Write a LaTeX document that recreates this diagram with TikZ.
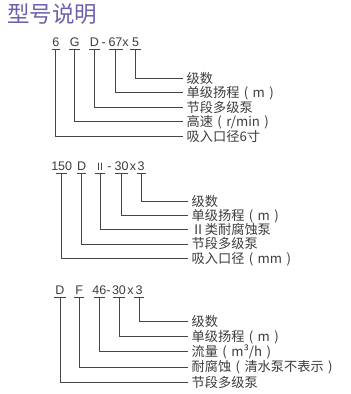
\documentclass[tikz,border=0pt]{standalone}
\usepackage{fontspec}
\setmainfont{Liberation Sans}
\newfontfamily\cjk{Noto Sans CJK SC}
\definecolor{titlec}{RGB}{108,98,172}
\definecolor{txt}{RGB}{60,60,60}
\definecolor{ln}{RGB}{70,70,70}
\newcommand\tokbar[2]{\draw[bar] ([xshift=-#2pt]#1.south) -- ([xshift=#2pt]#1.south);}
\newcommand\lp{\makebox[1em]{(}}
\newcommand\rp{\makebox[1em]{)}}
\begin{document}
\begin{tikzpicture}[x=1pt,y=-1pt,
  tok/.style={anchor=base, inner xsep=0pt, inner ysep=2.7pt, text height=9pt, text depth=0pt,
    font=\fontsize{12.5}{14}\selectfont, text=txt},
  lab/.style={anchor=west, inner xsep=3.5pt, inner ysep=0pt, text height=10pt, text depth=0pt,
    font=\cjk\fontsize{13.2}{15}\selectfont, text=txt},
  bar/.style={draw=ln, line width=0.8pt},
  conn/.style={draw=ln, line width=0.8pt}]
\useasboundingbox (0,0) rectangle (351,394);

% title
\node[anchor=base west, inner sep=0pt, font=\cjk\fontsize{22.5}{25}\selectfont, text=titlec] (title) at (7,22.5) {型号说明};

% ---------- section 1 ----------
\node[tok] (a1) at (55.8,46) {6};
\node[tok] (a2) at (74.8,46) {G};
\node[tok] (a3) at (94.5,46) {D};
\node[tok] (a3s) at (103.8,46) {-};
\node[tok] (a4) at (115.5,46) {67};
\node[tok] (a4s) at (125.5,46) {x};
\node[tok] (a5) at (135.5,46) {5};

\node[lab] (la5) at (183,78) {级数};
\node[lab] (la4) at (183,92.5) {单级扬程\lp m\rp};
\node[lab] (la3) at (183,107) {节段多级泵};
\node[lab] (la2) at (183,121.5) {高速\lp r/min\rp};
\node[lab] (la1) at (183,136) {吸入口径6寸};

\tokbar{a1}{4}\tokbar{a2}{5.5}\tokbar{a3}{5.5}\tokbar{a4}{7}\tokbar{a5}{5.5}
\draw[conn] (a5.south) |- (la5.west);
\draw[conn] (a4.south) |- (la4.west);
\draw[conn] (a3.south) |- (la3.west);
\draw[conn] (a2.south) |- (la2.west);
\draw[conn] (a1.south) |- (la1.west);

% ---------- section 2 ----------
\node[tok] (b1) at (61.7,170.7) {150};
\node[tok] (b2) at (81.7,170.7) {D};
\node[tok, font=\cjk\fontsize{10}{12}\selectfont] (b3) at (100,170.7) {Ⅱ};
\node[tok] (b3s) at (109.5,170.7) {-};
\node[tok] (b4) at (121.7,170.7) {30};
\node[tok] (b4s) at (133,170.7) {x};
\node[tok] (b5) at (141,170.7) {3};

\node[lab] (lb5) at (188,201) {级数};
\node[lab] (lb4) at (188,215.3) {单级扬程\lp m\rp};
\node[lab] (lb3) at (188,229.6) {Ⅱ类耐腐蚀泵};
\node[lab] (lb2) at (188,243.9) {节段多级泵};
\node[lab] (lb1) at (188,258.2) {吸入口径\lp mm\rp};

\tokbar{b1}{5.5}\tokbar{b2}{4.5}\tokbar{b3}{5}\tokbar{b4}{6.5}\tokbar{b5}{4.5}
\draw[conn] (b5.south) |- (lb5.west);
\draw[conn] (b4.south) |- (lb4.west);
\draw[conn] (b3.south) |- (lb3.west);
\draw[conn] (b2.south) |- (lb2.west);
\draw[conn] (b1.south) |- (lb1.west);

% ---------- section 3 ----------
\node[tok] (c1) at (60,294) {D};
\node[tok] (c2) at (79.3,294) {F};
\node[tok] (c3) at (99.3,294) {46};
\node[tok] (c3s) at (108.5,294) {-};
\node[tok] (c4) at (119,294) {30};
\node[tok] (c4s) at (130.5,294) {x};
\node[tok] (c5) at (139,294) {3};

\node[lab] (lc5) at (188,321) {级数};
\node[lab] (lc4) at (188,336.3) {单级扬程\lp m\rp};
\node[lab] (lc3) at (188,351.6) {流量\lp m³/h\rp};
\node[lab] (lc2) at (188,366.9) {耐腐蚀\lp 清水泵不表示\rp};
\node[lab] (lc1) at (188,382) {节段多级泵};

\tokbar{c1}{5.8}\tokbar{c2}{5}\tokbar{c3}{5.8}\tokbar{c4}{6}\tokbar{c5}{5.3}
\draw[conn] (c5.south) |- (lc5.west);
\draw[conn] (c4.south) |- (lc4.west);
\draw[conn] (c3.south) |- (lc3.west);
\draw[conn] (c2.south) |- (lc2.west);
\draw[conn] (c1.south) |- (lc1.west);
\end{tikzpicture}
\end{document}
